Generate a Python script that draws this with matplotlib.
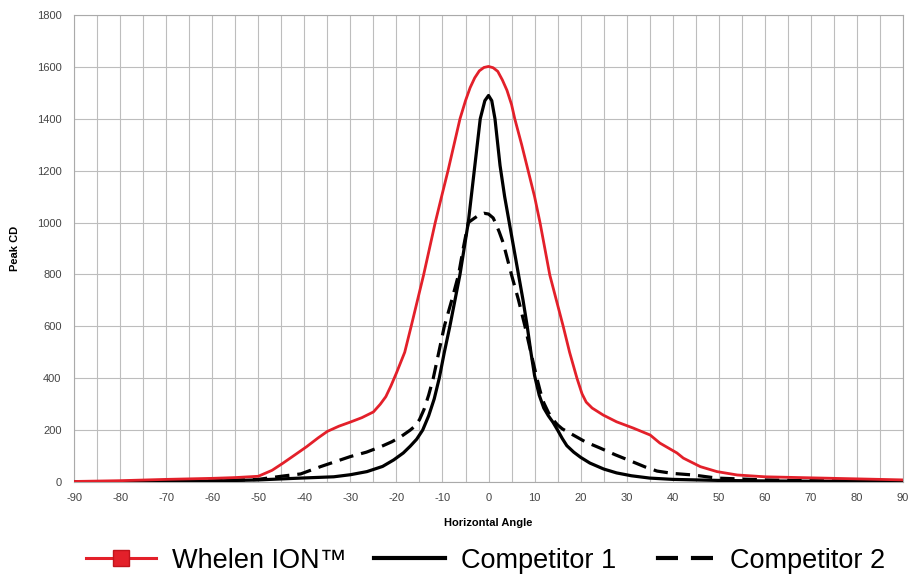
import numpy as np
import matplotlib.pyplot as plt
from matplotlib.lines import Line2D

plt.rcParams['font.family'] = ['Liberation Sans', 'DejaVu Sans']
plt.rcParams['axes.unicode_minus'] = False

# Whelen ION (red)
ion_x = [-90, -80, -70, -60, -55, -50, -47, -44.6, -42, -39.5, -37, -35, -32.5, -30, -27.5,
         -25, -23.5, -22.3, -21.2, -20, -18.2, -16.8, -14.1, -11.6, -10.2, -8.8, -7.5, -6.2,
         -5, -4, -3, -2, -1, 0, 1, 2, 3, 4, 5, 5.7, 7.2, 8.6, 10, 11.2, 13.3, 16.2, 17.6,
         19.2, 20.3, 21.2, 22.5, 24.9, 27.8, 31.4, 35.1, 37.2, 40.9, 42.3, 46, 49.6, 54, 60,
         70, 80, 90]
ion_y = [2, 5, 10, 14, 17, 22, 45, 73, 105, 136, 170, 195, 215, 231, 248,
         270, 300, 329, 370, 420, 500, 600, 798, 998, 1100, 1200, 1300, 1400,
         1470, 1520, 1558, 1585, 1598, 1602, 1597, 1583, 1550, 1510, 1455, 1400, 1300, 1200,
         1100, 998, 798, 601, 500, 400, 340, 308, 285, 258, 232, 208, 181, 150, 112, 92, 59,
         40, 27, 20, 16, 12, 8]

# Competitor 1 (solid black)
c1_x = [-90, -70, -60, -50, -40.8, -33.6, -30, -26.4, -23, -20.6, -18.5, -17, -15.6, -14.3,
        -13, -11.8, -10.7, -9.6, -8.4, -7.3, -6.2, -5.3, -4.4, -3.1, -1.8, -0.8, 0, 0.7, 1.4,
        2.5, 3.5, 4.5, 5.5, 6.5, 7.5, 8.4, 9.2, 10, 11, 12, 13, 14, 15, 16, 17, 18.5, 20, 22,
        25, 27.8, 31, 35, 40, 50, 60, 70, 90]
c1_y = [0, 2, 4, 8, 15, 20, 28, 40, 60, 85, 112, 138, 165, 200,
        255, 320, 400, 500, 600, 700, 800, 900, 1000, 1200, 1400, 1470, 1490, 1470, 1400,
        1220, 1100, 1000, 900, 800, 700, 600, 500, 410, 335, 285, 255, 230, 200, 168, 140, 115,
        95, 73, 50, 35, 24, 15, 10, 6, 4, 3, 1]

# Competitor 2 (dashed black)
c2_x = [-90, -70, -60, -50, -44.6, -40.8, -36.5, -33, -30, -26.5, -23.4, -21, -19, -17, -16,
        -15, -14, -13, -12, -10.8, -9.6, -8, -6.5, -5.5, -4.4, -3, -2, -1, 0, 1, 1.4, 2.3,
        3.2, 5, 6.5, 7.9, 9.4, 10.6, 11.3, 12, 13, 14, 15, 16, 18.4, 21, 24.2, 27.5, 31.4, 34,
        36.6, 40, 44.4, 49.6, 60, 70, 90]
c2_y = [1, 2, 4, 10, 23, 31, 59, 80, 98, 115, 136, 155, 175, 200, 215,
        240, 280, 335, 400, 500, 600, 700, 800, 900, 1000, 1018, 1030, 1036, 1033, 1018, 1003,
        965, 921, 798, 702, 601, 483, 393, 345, 305, 268, 240, 220, 205, 181, 155, 131, 105,
        77, 58, 42, 33, 27, 15, 8, 5, 2]

x_ticks = list(range(-90, 91, 10))
y_ticks = list(range(0, 1801, 200))
labels = ['Whelen ION™', 'Competitor 1', 'Competitor 2']

red = '#e3202a'

fig = plt.figure(figsize=(9.14, 5.80), dpi=100)
ax = fig.add_axes([0.081, 0.169, 0.907, 0.805])

ax.plot(ion_x, ion_y, color=red, lw=2.0, zorder=4)
ax.plot(c1_x, c1_y, color='black', lw=2.3, zorder=3)
ax.plot(c2_x, c2_y, color='black', lw=2.3, ls=(0, (4.5, 2.5)), zorder=3)

ax.set_xlim(-90, 90)
ax.set_ylim(0, 1800)
ax.set_xticks(x_ticks)
ax.set_xticks(np.arange(-90, 91, 5), minor=True)
ax.set_yticks(y_ticks)
ax.grid(which='both', axis='x', color='#bdbdbd', lw=0.8)
ax.grid(which='major', axis='y', color='#bdbdbd', lw=0.8)
ax.set_axisbelow(True)
ax.tick_params(which='both', length=0, labelsize=8, labelcolor='#444444')
ax.tick_params(axis='x', pad=8)
ax.tick_params(axis='y', pad=9)
for s in ax.spines.values():
    s.set_color('#aaaaaa')
    s.set_linewidth(0.8)

ax.set_xlabel('Horizontal Angle', fontsize=8, fontweight='bold', labelpad=11)
ax.set_ylabel('Peak CD', fontsize=8, fontweight='bold', labelpad=12)

# legend handles
handles = [
    Line2D([], [], color=red, lw=2.2, marker='s', markersize=12, markerfacecolor=red,
           markeredgecolor='#c0141c'),
    Line2D([], [], color='black', lw=3),
    Line2D([], [], color='black', lw=3, ls=(5.3, (5.3, 3.1))),
]
fig.legend(handles, labels, loc='center', bbox_to_anchor=(0.531, 0.033), ncol=3,
           frameon=False, fontsize=19.5, handlelength=2.6, handletextpad=0.6,
           columnspacing=1.0)

fig.savefig('out.png', dpi=100)
